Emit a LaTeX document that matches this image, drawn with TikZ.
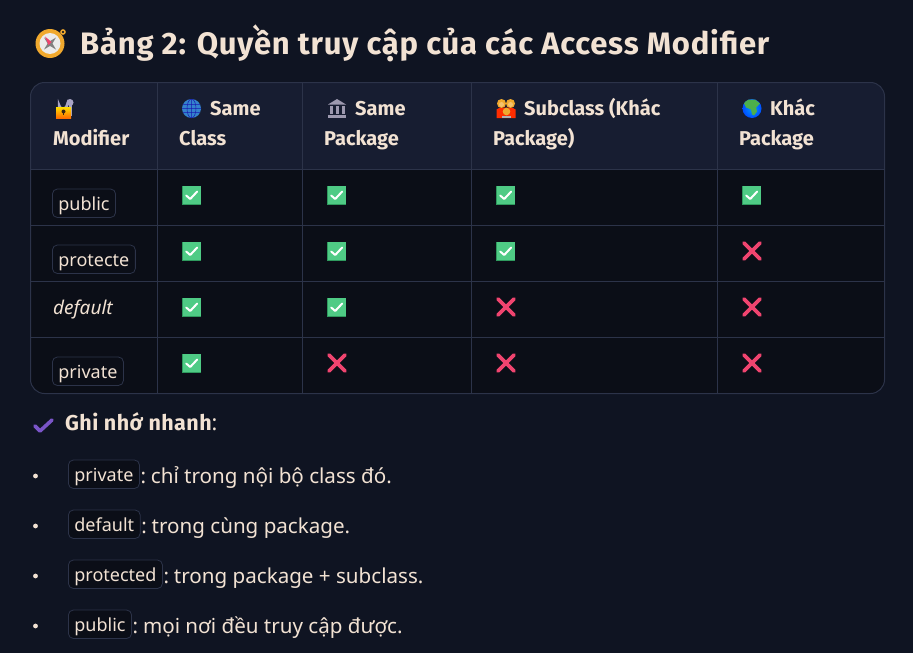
\documentclass[tikz,border=0pt]{standalone}
\usepackage{fontspec}
\setmainfont{Noto Sans}[BoldFont={Fira Sans Bold}]
\newfontfamily\titlefont{Fira Sans Bold}[LetterSpace=2.5]
\newfontfamily\notefont{Fira Sans Bold}[LetterSpace=2]
\definecolor{bg}{HTML}{0F1422}
\definecolor{hd}{HTML}{171D31}
\definecolor{bd}{HTML}{0B0E17}
\definecolor{ln}{HTML}{2C3349}
\definecolor{tx}{HTML}{F2E2D3}
\definecolor{ok}{HTML}{4FCB85}
\definecolor{okd}{HTML}{2F9A5E}
\definecolor{no}{HTML}{F0446F}
\definecolor{pur}{HTML}{7A55C8}
\definecolor{gold}{HTML}{F0A92E}
\definecolor{lockgray}{HTML}{A9A4C4}
\tikzset{
 x=1pt,y=-1pt,
 hdtext/.style={anchor=base west,inner sep=0pt,text=tx,font=\fontsize{20}{22}\selectfont\bfseries},
 bodytext/.style={anchor=base west,inner sep=0pt,text=tx,font=\fontsize{20.6}{22}\selectfont},
 codetag/.style={anchor=base west,draw=ln,fill=bd,rounded corners=5pt,text=tx,inner xsep=6pt,inner ysep=0pt,text height=21pt,text depth=7.5pt,font=\fontsize{18}{20}\selectfont,line width=.8pt},
 gridline/.style={draw=ln,line width=1pt},
 ptick/.pic={\fill[okd] (-9.5,-9.5) rectangle (9.5,9.5);
   \fill[ok] (-9,-9.5) rectangle (9,8.5);
   \draw[white,line width=2pt,line cap=round,line join=round] (-5.5,0.5)--(-1.5,4)--(5.5,-3.5);},
 pcross/.pic={\draw[no,line width=3.6pt,line cap=round] (-8,-8)--(8,8) (8,-8)--(-8,8);},
}
\begin{document}
\begin{tikzpicture}
\useasboundingbox (0,0) rectangle (913,653);
\fill[bg] (0,0) rectangle (913,653);
% compass
\begin{scope}[shift={(50,43.5)}]
\draw[gold,line width=1.5pt] (13,-11.5) circle (2);
\fill[gold] (0,0) circle (14.5);
\fill[black!8] (0,0) circle (10.5);
\fill[gray] (-6,-6)--(1.5,-1.5)--(6,6)--(-1.5,1.5)--cycle;
\fill[gray] (6,-6)--(1.5,1.5)--(-6,6)--(-1.5,-1.5)--cycle;
\fill[no] (-5,-7)--(1.5,-1.5)--(-1.5,1.5)--cycle;
\end{scope}
\node[anchor=base west,inner sep=0pt,text=tx,font=\fontsize{31}{33}\selectfont\titlefont] (title) at (80,54) {Bảng 2: Quyền truy cập của các Access Modifier};
% table
\begin{scope}
\clip[rounded corners=14pt] (30.5,82.5) rectangle (884.5,393.5);
\fill[bd] (30.5,82.5) rectangle (884.5,393.5);
\fill[hd] (30.5,82.5) rectangle (884.5,169.5);
\foreach \yy in {169.5,225.5,281.5,337.5} \draw[gridline] (30,\yy)--(885,\yy);
\foreach \xx in {157.5,302.5,471.5,717.5} \draw[gridline] (\xx,82)--(\xx,394);
\end{scope}
\draw[gridline,rounded corners=14pt] (30.5,82.5) rectangle (884.5,393.5);
% header icons
\begin{scope}[shift={(65,108.5)}]
\fill[lockgray] (5,-6) circle (3.5);
\fill[lockgray] (3.5,-6) rectangle (7,7);
\draw[lockgray,line width=2.2pt] (-6,0)--(-6,-4) arc (180:0:4) -- (2,0);
\shade[top color=yellow!70!orange,bottom color=orange!85!red] (-9,-1) rectangle (6,9.5);
\fill[black!70!brown] (-1.5,3) circle (2);
\fill[black!70!brown] (-2.2,3) rectangle (-.8,6.5);
\end{scope}
\begin{scope}[shift={(191.5,108.5)}]
\fill[cyan!55!blue!85!white] (0,0) circle (9.5);
\clip (0,0) circle (9.5);
\draw[blue!65!black!90,line width=.5pt] (0,0) ellipse (4.5 and 9.5) (-9.5,0)--(9.5,0) (-8.5,-4)--(8.5,-4) (-8.5,4)--(8.5,4) (0,-9.5)--(0,9.5);
\end{scope}
\begin{scope}[shift={(337,108.5)},fill=lockgray!70!gray]
\fill (-9,-4)--(0,-9.5)--(9,-4)--cycle;
\fill (-9,6.5) rectangle (9,9);
\foreach \cx in {-6,0,6} \fill (\cx-1.5,-2.5) rectangle (\cx+1.5,5.5);
\end{scope}
\begin{scope}[shift={(506,108.5)}]
\fill[red!65!orange] (-9.5,9.5)--(-9.5,1)--(-6,-1)--(6,-1)--(9.5,1)--(9.5,9.5)--cycle;
\fill[gold] (-4.5,-5) circle (4.5);
\fill[gold] (4.5,-5) circle (4.5);
\fill[gold!70!white] (-4.5,-4) circle (2.5);
\fill[gold!70!white] (4.5,-4) circle (2.5);
\fill[gold] (0.5,3) circle (3.8);
\fill[gray!60] (-4,9.5) rectangle (4.5,7);
\end{scope}
\begin{scope}[shift={(752,108.5)}]
\shade[inner color=blue!40!cyan,outer color=blue!70!cyan] (0,0) circle (9.5);
\clip (0,0) circle (9.5);
\fill[green!55!black!70!white] (-5,-9)--(3,-9)--(8,-5)--(4,-1)--(5,3)--(2,7)--(0,6)--(-1,1)--(-6,-1)--(-8,-5)--cycle;
\end{scope}
% header text
\node[hdtext] (h1b) at (53,145) {Modifier};
\node[hdtext] (h2a) at (210,115) {Same};
\node[hdtext] (h2b) at (179,145) {Class};
\node[hdtext] (h3a) at (355,115) {Same};
\node[hdtext] (h3b) at (324,145) {Package};
\node[hdtext] (h4a) at (524,115) {Subclass (Khác};
\node[hdtext] (h4b) at (493,145) {Package)};
\node[hdtext] (h5a) at (770,115) {Khác};
\node[hdtext] (h5b) at (739,145) {Package};
% first column
\node[codetag] (c1) at (52,210) {public};
\node[codetag] (c2) at (52,266) {protecte};
\node[anchor=base west,inner sep=0pt,text=tx,font=\fontsize{19}{21}\selectfont\itshape] (c3) at (53,314) {default};
\node[codetag] (c4) at (52,378) {private};
% marks
\foreach \xx/\yy in {191.7/195,336.7/195,505.7/195,751.7/195,191.7/251,336.7/251,505.7/251,191.7/307,336.7/307,191.7/363}
  \pic at (\xx,\yy) {ptick};
\foreach \xx/\yy in {752/251,506/307,752/307,337/363,506/363,752/363}
  \pic at (\xx,\yy) {pcross};
% note
\begin{scope}[shift={(44,425)}]
\draw[pur,line width=3.6pt,line cap=round,line join=round] (-9,1)--(-4,6)--(8,-5);
\end{scope}
\node[anchor=base west,inner sep=0pt,text=tx,font=\fontsize{21.5}{23}\selectfont] (note) at (65,430) {{\notefont Ghi nhớ nhanh}:};
% bullets
\foreach \yy in {476,526,576,626} \fill[tx] (35.5,\yy) circle (2.4);
\node[codetag] (l1) at (68,481) {private};
\node[bodytext] at ([xshift=.5pt]l1.east |- 0,483) {:\kern-.5pt\ chỉ trong nội bộ class đó.};
\node[codetag] (l2) at (68,531) {default};
\node[bodytext] at ([xshift=.5pt]l2.east |- 0,533) {:\kern-.5pt\ trong cùng package.};
\node[codetag] (l3) at (68,581) {protected};
\node[bodytext] at ([xshift=.5pt]l3.east |- 0,583) {:\kern-.5pt\ trong package + subclass.};
\node[codetag] (l4) at (68,631) {public};
\node[bodytext] at ([xshift=.5pt]l4.east |- 0,633) {:\kern-.5pt\ mọi nơi đều truy cập được.};
\end{tikzpicture}
\end{document}
